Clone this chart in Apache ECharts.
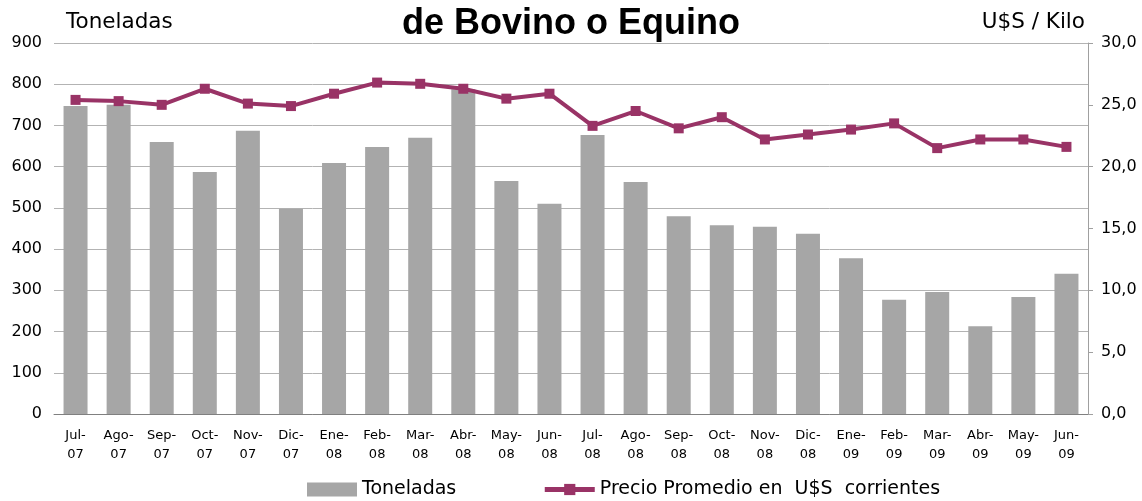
<!DOCTYPE html>
<html>
<head>
<meta charset="utf-8">
<script src="https://cdn.jsdelivr.net/npm/echarts@6/dist/echarts.min.js"></script>
<style>
  html, body { margin: 0; padding: 0; background: #fff; }
  #chart { width: 1142px; height: 501px; }
</style>
</head>
<body>
<div id="chart"></div>
<script>
// meses
const categories = [
  'Jul-\n07', 'Ago-\n07', 'Sep-\n07', 'Oct-\n07', 'Nov-\n07', 'Dic-\n07',
  'Ene-\n08', 'Feb-\n08', 'Mar-\n08', 'Abr-\n08', 'May-\n08', 'Jun-\n08',
  'Jul-\n08', 'Ago-\n08', 'Sep-\n08', 'Oct-\n08', 'Nov-\n08', 'Dic-\n08',
  'Ene-\n09', 'Feb-\n09', 'Mar-\n09', 'Abr-\n09', 'May-\n09', 'Jun-\n09'
];
// toneladas (eje izq.)
const toneladas = [
  747, 750, 660, 587, 687, 498, 609, 648, 670, 788, 565, 510,
  677, 563, 480, 458, 454, 437, 378, 277, 296, 213, 284, 340
];
// precio promedio U$S/kilo (eje der.)
const precio = [
  25.4, 25.3, 25.0, 26.3, 25.1, 24.9, 25.9, 26.8, 26.7, 26.3, 25.5, 25.9,
  23.3, 24.5, 23.1, 24.0, 22.2, 22.6, 23.0, 23.5, 21.5, 22.2, 22.2, 21.6
];

const font = 'DejaVu Sans, Verdana, sans-serif';
const lineName = 'Precio Promedio en  U$S  corrientes';
const chart = echarts.init(document.getElementById('chart'));

chart.setOption({
  animation: false,
  backgroundColor: '#fff',
  textStyle: {fontFamily: font, color: '#000'},
  title: [
    {
      text: 'de Bovino o Equino',
      left: 'center',
      top: 1,
      textStyle: {fontFamily: 'Liberation Sans, Arial, sans-serif', fontWeight: 'bold', fontSize: 36, color: '#000'}
    },
    {
      text: 'Toneladas',
      left: 61,
      top: 6,
      textStyle: {fontFamily: font, fontWeight: 'normal', fontSize: 21.5, color: '#000'}
    },
    {
      text: 'U$S / Kilo',
      right: 52,
      top: 6,
      textStyle: {fontFamily: font, fontWeight: 'normal', fontSize: 21.5, color: '#000'}
    }
  ],
  legend: {
    left: 302,
    top: 475,
    itemWidth: 50,
    itemHeight: 14,
    itemGap: 86,
    textStyle: {fontFamily: font, fontSize: 19, color: '#000'},
    data: [
      {name: 'Toneladas', icon: 'rect'},
      {name: lineName, lineStyle: {width: 5, color: '#993366'}}
    ]
  },
  grid: {left: 54, right: 54, top: 43, bottom: 87},
  xAxis: {
    type: 'category',
    data: categories,
    axisLine: {show: true, lineStyle: {color: '#808080', width: 1}},
    axisTick: {show: false},
    axisLabel: {fontFamily: font, fontSize: 13, lineHeight: 19, color: '#000', margin: 12, interval: 0}
  },
  yAxis: [
    {
      type: 'value',
      min: 0,
      max: 900,
      interval: 100,
      axisLine: {show: false},
      axisTick: {show: false},
      axisLabel: {fontFamily: font, fontSize: 16, color: '#000', margin: 12},
      splitLine: {show: true, lineStyle: {color: '#b3b3b3', width: 1}}
    },
    {
      type: 'value',
      min: 0,
      max: 30,
      interval: 5,
      position: 'right',
      axisLine: {show: true, lineStyle: {color: '#a0a0a0', width: 1}},
      axisTick: {show: true, length: 5, lineStyle: {color: '#a0a0a0'}},
      axisLabel: {
        fontFamily: font, fontSize: 16, color: '#000', margin: 13,
        formatter: v => v.toFixed(1).replace('.', ',')
      },
      splitLine: {show: false}
    }
  ],
  series: [
    {
      name: 'Toneladas',
      type: 'bar',
      yAxisIndex: 0,
      data: toneladas,
      barWidth: 24,
      itemStyle: {color: '#a6a6a6'}
    },
    {
      name: lineName,
      type: 'line',
      yAxisIndex: 1,
      data: precio,
      symbol: 'rect',
      symbolSize: 10,
      lineStyle: {color: '#993366', width: 4},
      itemStyle: {color: '#993366'},
      z: 5
    }
  ]
});
</script>
</body>
</html>
